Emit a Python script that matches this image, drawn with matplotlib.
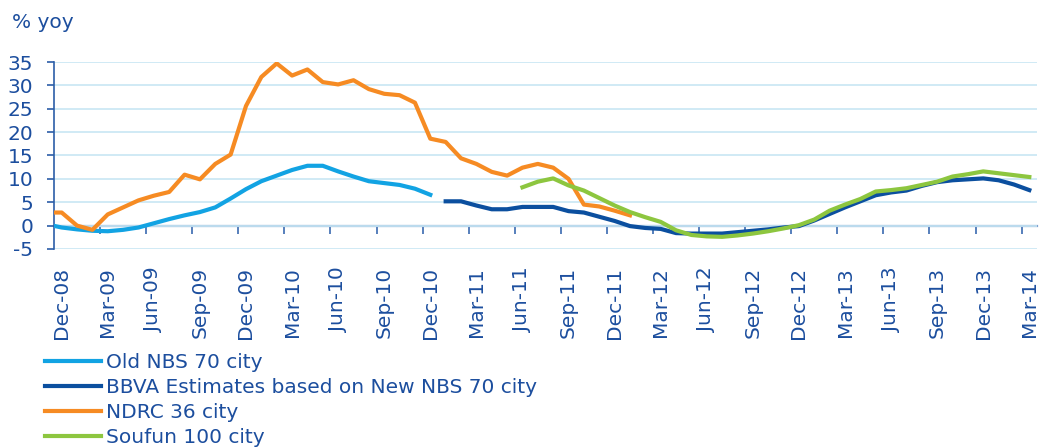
import matplotlib
matplotlib.use("Agg")
import matplotlib.pyplot as plt
import numpy as np

# months run Nov-08 (index 0) .. Mar-14 (index 64); axis shows Dec-08 onwards
tick_labels = ["Dec-08", "Mar-09", "Jun-09", "Sep-09", "Dec-09", "Mar-10", "Jun-10",
               "Sep-10", "Dec-10", "Mar-11", "Jun-11", "Sep-11", "Dec-11", "Mar-12",
               "Jun-12", "Sep-12", "Dec-12", "Mar-13", "Jun-13", "Sep-13", "Dec-13",
               "Mar-14"]

# Old NBS 70 city, Nov-08 .. Dec-10
old_nbs_start = 0
old_nbs = [0.3, -0.4, -0.8, -1.1, -1.2, -0.9, -0.4, 0.5, 1.4, 2.2, 2.9, 3.9, 5.8,
           7.8, 9.5, 10.7, 11.9, 12.8, 12.8, 11.6, 10.5, 9.5, 9.1, 8.7, 7.9, 6.6]

# BBVA estimates based on new NBS 70 city, Jan-11 .. Mar-14
bbva_start = 26
bbva = [5.2, 5.2, 4.3, 3.5, 3.5, 4.0, 4.0, 4.0, 3.1, 2.8, 1.9, 1.0, -0.1, -0.5,
        -0.7, -1.6, -1.7, -1.7, -1.7, -1.4, -1.1, -0.8, -0.4, -0.1, 1.1, 2.5, 3.9,
        5.2, 6.5, 7.1, 7.5, 8.5, 9.3, 9.7, 9.9, 10.1, 9.7, 8.8, 7.6]

# NDRC 36 city, Nov-08 .. Jan-12
ndrc_start = 0
ndrc = [2.8, 2.8, 0.0, -0.9, 2.4, 3.9, 5.4, 6.4, 7.2, 10.9, 9.9, 13.2, 15.2, 25.6,
        31.8, 34.7, 32.1, 33.4, 30.7, 30.2, 31.1, 29.2, 28.2, 27.9, 26.3, 18.6,
        17.9, 14.4, 13.2, 11.5, 10.7, 12.4, 13.2, 12.4, 10.0, 4.5, 4.1, 3.2, 2.2]

# Soufun 100 city, Jun-11 .. Mar-14
soufun_start = 31
soufun = [8.2, 9.4, 10.1, 8.6, 7.5, 5.9, 4.3, 2.9, 1.8, 0.8, -1.0, -2.0, -2.3, -2.4,
          -2.1, -1.7, -1.2, -0.6, 0.1, 1.3, 3.2, 4.5, 5.7, 7.3, 7.6, 8.0, 8.7, 9.4,
          10.5, 11.0, 11.6, 11.2, 10.8, 10.4]

txt = "#1c4e9e"
fs = 14.5
plt.rcParams["font.family"] = ["DejaVu Sans"]
plt.rcParams["axes.unicode_minus"] = False

fig = plt.figure(figsize=(10.42, 4.48), dpi=100)
ax = fig.add_axes([54 / 1042, 1 - 249 / 448, 983 / 1042, 187 / 448])

series = [
    (old_nbs_start, old_nbs, "#12a3e3", "Old NBS 70 city"),
    (bbva_start, bbva, "#0b4f9f", "BBVA Estimates based on New NBS 70 city"),
    (ndrc_start, ndrc, "#f68b23", "NDRC 36 city"),
    (soufun_start, soufun, "#8dc63f", "Soufun 100 city"),
]
handles = []
for start, vals, col, lab in series:
    x = np.arange(len(vals)) + start
    ln, = ax.plot(x, vals, color=col, lw=3.0, label=lab, zorder=3)
    handles.append(ln)

ax.set_xlim(0.5, 64.5)
ax.set_ylim(-5, 35)
ax.set_yticks(np.arange(-5, 36, 5))
ax.grid(axis="y", color="#c8e6f4", lw=1.2, zorder=0)
ax.set_axisbelow(True)

for s in ["top", "right", "bottom"]:
    ax.spines[s].set_visible(False)
ax.spines["left"].set_color("#2c5ea8")
ax.spines["left"].set_linewidth(1.2)

ax.tick_params(axis="y", direction="out", length=5, width=1.2, color="#2c5ea8",
               labelcolor=txt, labelsize=fs, pad=10)

xt = np.arange(1, 65, 3)
ax.set_xticks(xt)
ax.set_xticklabels(tick_labels, rotation=90, color=txt, fontsize=fs)
ax.tick_params(axis="x", length=0, pad=13)

# category axis crossing at zero, tick marks between categories
sec = ax.secondary_xaxis(5 / 40)
sec.spines["bottom"].set_color("#7fa0d0")
sec.spines["bottom"].set_linewidth(1.6)
sec.set_xticks(np.arange(3.5, 64, 3))
sec.tick_params(axis="x", direction="out", length=6, width=1.2, color="#3a6ab0",
                labelbottom=False)

fig.text(12 / 1042, 1 - 22 / 448, "% yoy", color=txt, fontsize=fs, va="center")

leg = fig.legend(handles=handles, loc="upper left",
                 bbox_to_anchor=(45 / 1042, 1 - 353 / 448),
                 frameon=False, fontsize=fs, labelcolor=txt, handlelength=2.8,
                 handletextpad=0.25, labelspacing=0.3, borderpad=0, borderaxespad=0)
for h in leg.legend_handles:
    h.set_linewidth(3)

fig.savefig("out.png", dpi=100)
